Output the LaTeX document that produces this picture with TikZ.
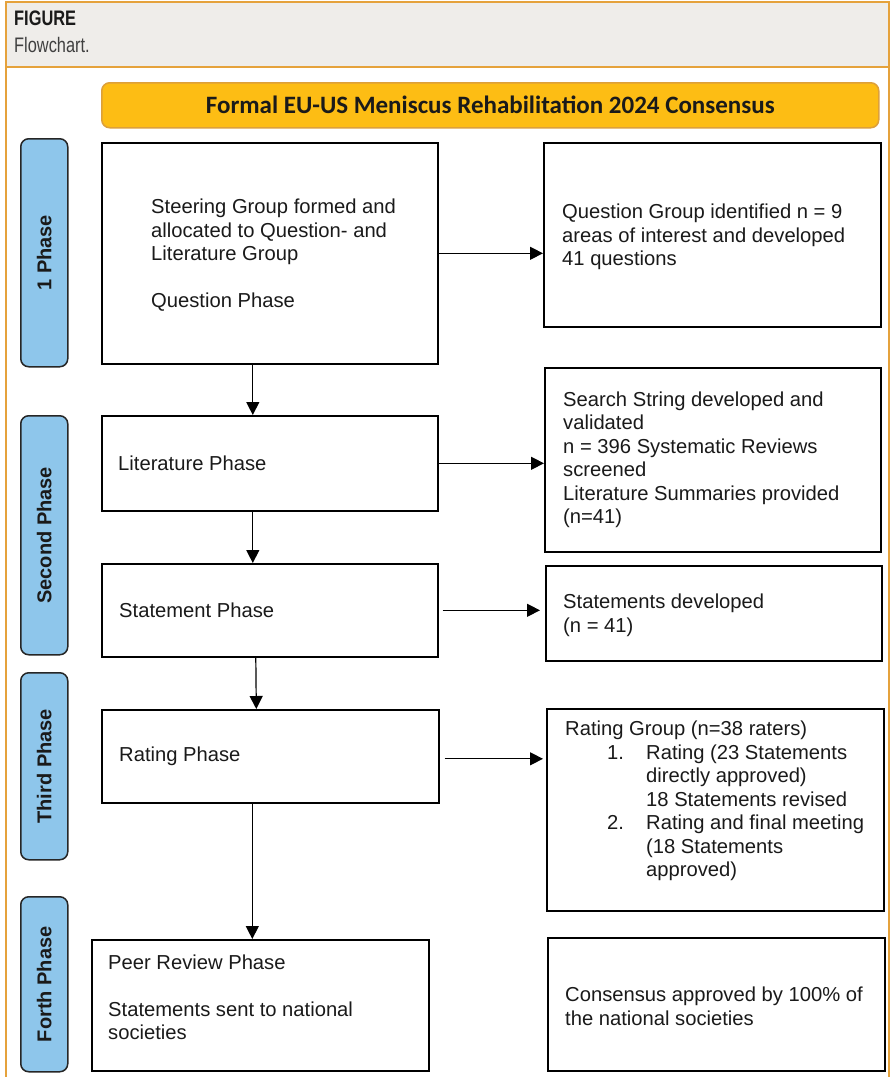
\documentclass[tikz,border=0pt]{standalone}
\usepackage{fontspec}
\setmainfont{Liberation Sans}
\newfontfamily\condfont[FakeStretch=0.78]{Liberation Sans}
\newfontfamily\titlefont{Carlito}
\usetikzlibrary{arrows.meta,calc}
\definecolor{frameor}{HTML}{E5A23C}
\definecolor{headgray}{HTML}{EFEDEA}
\definecolor{titlefill}{HTML}{FDBD14}
\definecolor{titledraw}{HTML}{DDA03A}
\definecolor{phasefill}{HTML}{8EC6EB}
\definecolor{ink}{HTML}{1A1A1A}
\begin{document}
\begin{tikzpicture}[x=1pt,y=-1pt,
  box/.style={draw=black, line width=1.6pt, anchor=north west, inner sep=0pt},
  phasebox/.style={draw=black!85, fill=phasefill, line width=1.5pt, rounded corners=8pt, anchor=north west, inner sep=0pt, minimum width=47pt},
  phaselbl/.style={rotate=90, text=ink, font=\fontsize{20}{23}\selectfont\bfseries},
  txt/.style={anchor=west, align=left, inner sep=0pt, text=ink, font=\fontsize{20.2}{23.5}\selectfont},
  arr/.style={-{Triangle[length=13pt,width=13pt]}, line width=1.2pt, draw=black}
]
\useasboundingbox (0,0) rectangle (894,1077);
\fill[white] (0,0) rectangle (894,1077);
\fill[headgray] (6,2) rectangle (889,67);
\draw[frameor, line width=2.5pt] (6,1077) -- (6,2) -- (889,2) -- (889,1077);
\draw[frameor, line width=2.5pt] (6,67) -- (889,67);
\node[anchor=west, inner sep=0pt, text=ink, font=\condfont\bfseries\fontsize{21}{24}\selectfont] (fig) at (14,18) {FIGURE};
\node[anchor=west, inner sep=0pt, font=\condfont\fontsize{21}{24}\selectfont, text=black!75] (cap) at (14,45) {Flowchart.};

% title
\node[draw=titledraw, fill=titlefill, line width=1.5pt, rounded corners=8pt, anchor=north west, inner sep=0pt, minimum width=777pt, minimum height=45pt, text=ink, font=\titlefont\bfseries\fontsize{25}{28}\selectfont] (title) at (101,82) {Formal EU-US Meniscus Rehabilitation 2024 Consensus};

% phase labels
\node[phasebox, minimum height=228pt] (p1) at (20,138) {};
\node[phaselbl] (p1t) at (p1.center) {1 Phase};
\node[phasebox, minimum height=239pt] (p2) at (20,415) {};
\node[phaselbl] (p2t) at (p2.center) {Second Phase};
\node[phasebox, minimum height=187pt] (p3) at (20,672) {};
\node[phaselbl] (p3t) at (p3.center) {Third Phase};
\node[phasebox, minimum height=175pt] (p4) at (20,896) {};
\node[phaselbl] (p4t) at (p4.center) {Forth Phase};

% left boxes
\node[box, minimum width=336pt, minimum height=221pt] (b1) at (101,142) {};
\node[txt] (b1t) at ([xshift=50pt,yshift=-2pt]b1.west) {Steering Group formed and\\allocated to Question- and\\Literature Group\\[23.5pt]Question Phase};
\node[box, minimum width=336pt, minimum height=95pt] (b2) at (101,415) {};
\node[txt] (b2t) at ([xshift=17pt]b2.west) {Literature Phase};
\node[box, minimum width=336pt, minimum height=93pt] (b3) at (101,563) {};
\node[txt] (b3t) at ([xshift=18pt]b3.west) {Statement Phase};
\node[box, minimum width=337pt, minimum height=93pt] (b4) at (101,709) {};
\node[txt] (b4t) at ([xshift=18pt]b4.west) {Rating Phase};
\node[box, minimum width=337pt, minimum height=131pt] (b5) at (91,939) {};
\node[txt] (b5t) at ([xshift=17pt,yshift=8pt]b5.west) {Peer Review Phase\\[23.5pt]Statements sent to national\\societies};

% right boxes
\node[box, minimum width=337pt, minimum height=184pt] (r1) at (543,142) {};
\node[txt] (r1t) at ([xshift=19pt,yshift=-2pt]r1.west) {Question Group identified n = 9\\areas of interest and developed\\41 questions};
\node[box, minimum width=336pt, minimum height=184pt] (r2) at (544,367) {};
\node[txt] (r2t) at ([xshift=19pt]r2.west) {Search String developed and\\validated\\n = 396 Systematic Reviews\\screened\\Literature Summaries provided\\(n=41)};
\node[box, minimum width=336pt, minimum height=95pt] (r3) at (545,565) {};
\node[txt] (r3t) at ([xshift=18pt,yshift=-2pt]r3.west) {Statements developed\\(n = 41)};
\node[box, minimum width=337pt, minimum height=202pt] (r4) at (546,708) {};
\node[txt] (r4t) at ([xshift=19pt,yshift=9pt]r4.west) {Rating Group (n=38 raters)\\
\hspace*{42pt}\makebox[39pt][l]{1.}Rating (23 Statements\\
\hspace*{81pt}directly approved)\\
\hspace*{81pt}18 Statements revised\\
\hspace*{42pt}\makebox[39pt][l]{2.}Rating and final meeting\\
\hspace*{81pt}(18 Statements\\
\hspace*{81pt}approved)};
\node[box, minimum width=337pt, minimum height=133pt] (r5) at (547,937) {};
\node[txt] (r5t) at ([xshift=18pt,yshift=-2pt]r5.west) {Consensus approved by 100\% of\\the national societies};

% vertical arrows
\draw[arr] ([xshift=-17pt]b1.south) -- ([xshift=-17pt]b2.north);
\draw[arr] ([xshift=-17pt]b2.south) -- ([xshift=-17pt]b3.north);
\draw[arr] ([xshift=-14pt]b3.south) -- ([xshift=-14pt]b4.north);
\draw[arr] ([xshift=-18pt]b4.south) -- ([xshift=-18pt]b4.south |- b5.north);

% horizontal arrows
\draw[arr] (b1.east) -- (b1.east -| r1.west);
\draw[arr] (b2.east) -- (b2.east -| r2.west);
\draw[arr] ([xshift=4pt]b3.east) -- ([xshift=-5pt]b3.east -| r3.west);
\draw[arr] ([xshift=5pt,yshift=-2.5pt]b4.east) -- ([xshift=-3pt,yshift=-2.5pt]b4.east -| r4.west);
\end{tikzpicture}
\end{document}
